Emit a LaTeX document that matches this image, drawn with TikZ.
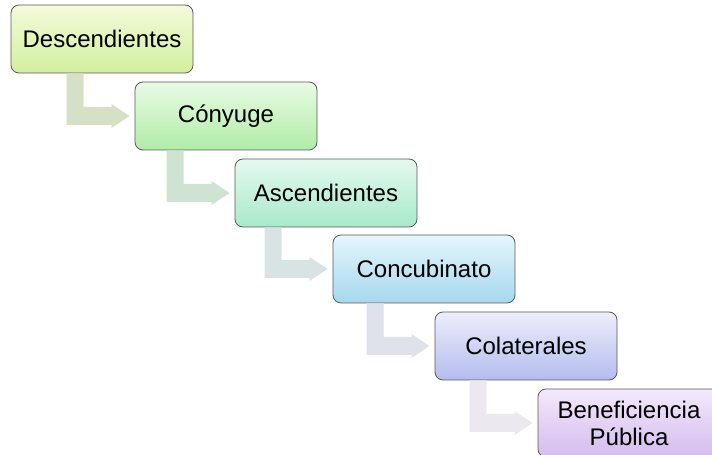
\documentclass[tikz,border=0pt]{standalone}
\usepackage{fontspec}
\setmainfont{Liberation Sans}
\usepackage{tikz}
\usetikzlibrary{positioning,calc}

\definecolor{topA}{HTML}{F3FADB}\definecolor{botA}{HTML}{D3EF9E}
\definecolor{topB}{HTML}{E8FBE4}\definecolor{botB}{HTML}{B0ECA6}
\definecolor{topC}{HTML}{E5FAEF}\definecolor{botC}{HTML}{A8E9C8}
\definecolor{topD}{HTML}{E4F6FB}\definecolor{botD}{HTML}{A6D8EE}
\definecolor{topE}{HTML}{ECEEFB}\definecolor{botE}{HTML}{B4BCEE}
\definecolor{topF}{HTML}{F3E9FB}\definecolor{botF}{HTML}{D4BCEE}
\definecolor{arrA}{HTML}{D6E0C4}
\definecolor{arrB}{HTML}{CFE3D3}
\definecolor{arrC}{HTML}{D8E4E4}
\definecolor{arrD}{HTML}{E0E2EA}
\definecolor{arrE}{HTML}{EBE8EF}

\tikzset{
  stepbox/.style={draw=black!65, line width=0.8pt, rounded corners=8pt,
    minimum width=182pt, minimum height=68pt, align=center,
    font=\fontsize{24}{27}\selectfont},
}

% bent arrow from box #1 down and right into box #2
\newcommand{\steparrow}[3]{%
  \path ($(#2.west)+(-68,0)$) coordinate (ab) ($(#2.west)+(-5,0)$) coordinate (at);
  \fill[#3] (ab |- #1.south) -- ++(17,0) |- ($(at)+(-18,9)$) -- ++(0,3) -- (at)
    -- ++(-18,-12) -- ++(0,3) -| (ab |- #1.south) -- cycle;
}

\begin{document}
\begin{tikzpicture}[x=1pt,y=1pt]
	\useasboundingbox (0,0) rectangle (712,455);
	\clip (0,0) rectangle (712,455);
	\node[stepbox, top color=topA, bottom color=botA] (desc) at (102,416) {Descendientes};
	\node[stepbox, top color=topB, bottom color=botB] (cony) at (226,339) {Cónyuge};
	\node[stepbox, top color=topC, bottom color=botC] (asc) at (326,262) {Ascendientes};
	\node[stepbox, top color=topD, bottom color=botD] (conc) at (424,186) {Concubinato};
	\node[stepbox, top color=topE, bottom color=botE] (cola) at (526,109) {Colaterales};
	\node[stepbox, top color=topF, bottom color=botF] (bene) at (629,32) {Beneficiencia\\Pública};
	\steparrow{desc}{cony}{arrA}
	\steparrow{cony}{asc}{arrB}
	\steparrow{asc}{conc}{arrC}
	\steparrow{conc}{cola}{arrD}
	\steparrow{cola}{bene}{arrE}
\end{tikzpicture}
\end{document}
